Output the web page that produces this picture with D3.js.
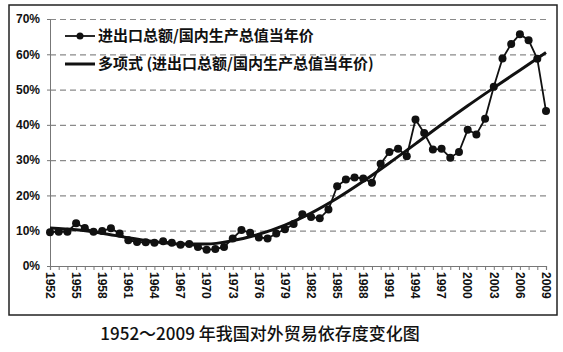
<!DOCTYPE html>
<html>
<head>
<meta charset="utf-8">
<script src="https://cdn.jsdelivr.net/npm/d3@7"></script>
<style>
  body { margin: 0; background: #ffffff; }
  svg { display: block; }
  .tick-label { font-family: "Liberation Sans", Arial, sans-serif; font-weight: bold; font-size: 12px; fill: #111; }
  .legend-text { font-family: "Noto Sans CJK SC", sans-serif; font-weight: bold; font-size: 15px; fill: #111; }
  .title { font-family: "Noto Sans CJK SC", sans-serif; font-weight: 500; font-size: 17px; fill: #111; }
</style>
</head>
<body>
<svg id="chart" width="563" height="352"></svg>
<script>
// data
const years = d3.range(1952, 2010);
const ratio = [
  9.6, 9.7, 9.7, 12.1, 10.8, 9.7, 9.9, 10.7, 9.2, 7.3,
  6.8, 6.7, 6.6, 7.0, 6.6, 6.0, 6.2, 5.4, 4.6, 4.8,
  5.4, 7.8, 10.2, 9.4, 8.1, 7.8, 9.2, 10.4, 11.9, 14.7,
  13.9, 13.5, 16.0, 22.6, 24.5, 25.1, 24.8, 23.6, 29.0, 32.3,
  33.2, 31.1, 41.5, 37.7, 33.0, 33.2, 30.7, 32.3, 38.6, 37.3,
  41.7, 50.8, 58.8, 62.9, 65.7, 64.0, 58.7, 43.9
];
// polynomial trend line, read at a few years
const trendYears = [1952, 1955, 1958, 1961, 1964, 1967, 1970, 1973, 1976, 1979, 1982, 1985, 1988, 1991, 1994, 1997, 2000, 2003, 2006, 2009];
const trendVals = [10.8, 10.3, 9.3, 8.0, 6.9, 6.2, 6.2, 7.2, 9.0, 11.6, 15.0, 19.2, 24.0, 29.2, 34.6, 40.1, 45.4, 50.5, 55.5, 60.5];
const yTicks = [0, 10, 20, 30, 40, 50, 60, 70];
const xTickYears = d3.range(1952, 2010, 3);
const legendLabels = ["进出口总额/国内生产总值当年价", "多项式 (进出口总额/国内生产总值当年价)"];
const titleText = "1952～2009 年我国对外贸易依存度变化图";

const svg = d3.select("#chart");

// outer frame
svg.append("rect")
   .attr("x", 9).attr("y", 5)
   .attr("width", 548).attr("height", 310)
   .attr("fill", "none")
   .attr("stroke", "#222")
   .attr("stroke-width", 1.5);

// scales
const xScale = d3.scaleLinear().domain([1952, 2009]).range([50, 546]);
const yScale = d3.scaleLinear().domain([0, 70]).range([266, 19]);

// gridlines
const gridG = svg.append("g")
   .attr("transform", "translate(50,0)")
   .call(d3.axisLeft(yScale).tickValues(yTicks.slice(1)).tickSize(-496).tickFormat(""));
gridG.select(".domain").remove();
gridG.selectAll("line")
   .attr("stroke", "#8a8a8a")
   .attr("stroke-width", 1.2)
   .attr("stroke-dasharray", "6,4");

// y axis
const yAxisG = svg.append("g")
   .attr("transform", "translate(50,0)")
   .call(d3.axisLeft(yScale).tickValues(yTicks).tickSize(3).tickFormat(d => d + "%"));
yAxisG.select(".domain").attr("stroke", "#777");
yAxisG.selectAll("line").attr("stroke", "#777");
yAxisG.selectAll("text")
   .attr("class", "tick-label")
   .attr("x", -10);

// x axis with a tick every year
const xAxisG = svg.append("g")
   .attr("transform", "translate(0,266)")
   .call(d3.axisBottom(xScale).tickValues(years).tickSize(4).tickFormat(""));
xAxisG.select(".domain").attr("stroke", "#777").attr("stroke-width", 1.2);
xAxisG.selectAll("line").attr("stroke", "#777");

// rotated year labels
svg.append("g")
   .selectAll("text")
   .data(xTickYears)
   .join("text")
   .attr("class", "tick-label")
   .attr("transform", d => `translate(${xScale(d)},272) rotate(90)`)
   .attr("dy", "0.35em")
   .attr("text-anchor", "start")
   .text(d => d);

// trend line
const trendLine = d3.line()
   .x(d => xScale(d[0]))
   .y(d => yScale(d[1]))
   .curve(d3.curveMonotoneX);
svg.append("path")
   .datum(d3.zip(trendYears, trendVals))
   .attr("d", trendLine)
   .attr("fill", "none")
   .attr("stroke", "#111")
   .attr("stroke-width", 3);

// data line
const dataPts = d3.zip(years, ratio);
const dataLine = d3.line()
   .x(d => xScale(d[0]))
   .y(d => yScale(d[1]));
svg.append("path")
   .datum(dataPts)
   .attr("d", dataLine)
   .attr("fill", "none")
   .attr("stroke", "#111")
   .attr("stroke-width", 1.8);
svg.append("g")
   .selectAll("circle")
   .data(dataPts)
   .join("circle")
   .attr("cx", d => xScale(d[0]))
   .attr("cy", d => yScale(d[1]))
   .attr("r", 4)
   .attr("fill", "#111");

// legend
const legend = svg.append("g");
legend.append("line")
   .attr("x1", 65).attr("x2", 95).attr("y1", 36).attr("y2", 36)
   .attr("stroke", "#111").attr("stroke-width", 1.8);
legend.append("circle")
   .attr("cx", 80).attr("cy", 36).attr("r", 3.5).attr("fill", "#111");
legend.append("line")
   .attr("x1", 65).attr("x2", 95).attr("y1", 64).attr("y2", 64)
   .attr("stroke", "#111").attr("stroke-width", 3);
legend.selectAll("text")
   .data(legendLabels)
   .join("text")
   .attr("class", "legend-text")
   .attr("x", 98)
   .attr("y", (d, i) => 36 + i * 28)
   .attr("dy", "0.35em")
   .text(d => d);

// title
svg.append("text")
   .attr("class", "title")
   .attr("x", 260)
   .attr("y", 334)
   .attr("text-anchor", "middle")
   .attr("dy", "0.35em")
   .text(titleText);
</script>
</body>
</html>
